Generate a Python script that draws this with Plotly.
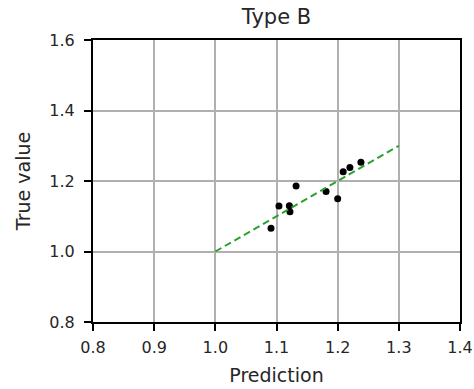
import plotly.graph_objects as go

# Predicted vs. true values for Type B samples
prediction = [1.091, 1.104, 1.121, 1.122, 1.132, 1.181, 1.200, 1.209, 1.220, 1.238]
true_value = [1.066, 1.129, 1.130, 1.113, 1.186, 1.170, 1.150, 1.226, 1.238, 1.253]

# Identity reference line
ref_x = [1.0, 1.3]
ref_y = [1.0, 1.3]

x_ticks = [0.8, 0.9, 1.0, 1.1, 1.2, 1.3, 1.4]
y_ticks = [0.8, 1.0, 1.2, 1.4, 1.6]

fig = go.Figure()
fig.add_trace(go.Scatter(
    x=prediction, y=true_value, mode="markers",
    marker=dict(color="black", size=7, line=dict(width=0)),
    showlegend=False,
))
fig.add_trace(go.Scatter(
    x=ref_x, y=ref_y, mode="lines",
    line=dict(color="#2ca02c", width=2, dash="7px,4px"),
    showlegend=False,
))

font = "DejaVu Sans, sans-serif"
text_color = "#262626"
axis_common = dict(
    showline=True, linecolor="black", linewidth=2, mirror=True,
    ticks="outside", ticklen=7, tickwidth=1.5, tickcolor="black",
    showgrid=True, gridcolor="#b0b0b0", gridwidth=1.5,
    zeroline=False, automargin=False,
    tickfont=dict(family=font, size=16, color=text_color),
)

fig.update_layout(
    width=474, height=389,
    margin=dict(l=93, r=14, t=40, b=67),
    paper_bgcolor="white", plot_bgcolor="white",
    title=dict(text="Type B", x=0.5, xanchor="center", xref="paper",
               y=1 - 17 / 389, yanchor="middle",
               font=dict(family=font, size=21, color=text_color)),
    xaxis=dict(range=[0.8, 1.4], tickvals=x_ticks,
               ticktext=[f"{v:.1f}" for v in x_ticks],
               ticklabelstandoff=3,
               title=dict(text="Prediction", font=dict(family=font, size=19, color=text_color),
                          standoff=12),
               **axis_common),
    yaxis=dict(range=[0.8, 1.6], tickvals=y_ticks,
               ticktext=[f"{v:.1f}" for v in y_ticks],
               ticklabelstandoff=6,
               title=dict(text="True value", font=dict(family=font, size=19, color=text_color),
                          standoff=14),
               **axis_common),
)

fig.write_html("out.html")
